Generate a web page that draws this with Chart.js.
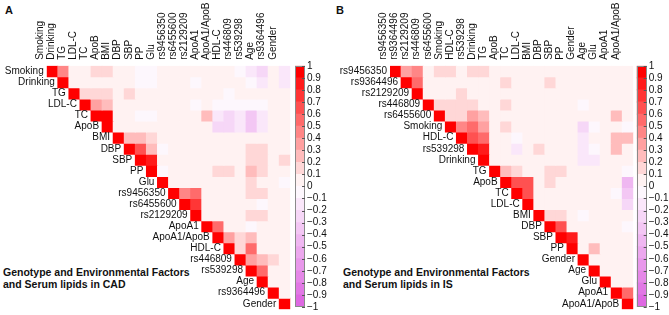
<!DOCTYPE html>
<html>
<head>
<meta charset="utf-8">
<script src="https://cdn.jsdelivr.net/npm/chart.js"></script>
<style>
  body { margin: 0; background: #fff; width: 669px; height: 315px; overflow: hidden; position: relative;
         font-family: "Liberation Sans", Arial, sans-serif; color: #111; }
  canvas { position: absolute; top: 0; }
  .tag { position: absolute; font-weight: bold; font-size: 11px; }
  .cap { position: absolute; font-weight: bold; font-size: 10.5px; line-height: 12.3px; white-space: nowrap; }
</style>
</head>
<body>
<div class="tag" style="left:5px;top:4px">A</div>
<div class="tag" style="left:336px;top:4px">B</div>
<div class="cap" style="left:3px;top:266px">Genotype and Environmental Factors<br>and Serum lipids in CAD</div>
<div class="cap" style="left:343px;top:266px">Genotype and Environmental Factors<br>and Serum lipids in IS</div>
<canvas id="heatA" width="335" height="315" style="left:0"></canvas>
<canvas id="barA" width="45" height="315" style="left:290px"></canvas>
<canvas id="heatB" width="334" height="315" style="left:335px"></canvas>
<canvas id="barB" width="37" height="315" style="left:632px"></canvas>
<script>
// variable order of each panel (columns left->right, rows top->bottom)
var varsA = ['Smoking', 'Drinking', 'TG', 'LDL-C', 'TC', 'ApoB', 'BMI', 'DBP', 'SBP', 'PP', 'Glu',
  'rs9456350', 'rs6455600', 'rs2129209', 'ApoA1', 'ApoA1/ApoB', 'HDL-C', 'rs446809', 'rs539298',
  'Age', 'rs9364496', 'Gender'];
var varsB = ['rs9456350', 'rs9364496', 'rs2129209', 'rs446809', 'rs6455600', 'Smoking', 'HDL-C',
  'rs539298', 'Drinking', 'TG', 'ApoB', 'TC', 'LDL-C', 'BMI', 'DBP', 'SBP', 'PP', 'Gender', 'Age',
  'Glu', 'ApoA1', 'ApoA1/ApoB'];

// upper triangle, row i holds columns i..21 (diagonal first)
var corrA = [
  [1, .45, .05, .05, .15, .15, .02, .05, -.05, -.05, .02, .02, .08, .02, .05, .02, .02, -.08, -.12, -.25, .02, -.18],
  [1, .03, .03, .08, .08, .02, .02, -.03, -.08, .08, .02, .08, -.05, .02, .02, .02, .02, -.08, -.2, .02, -.15],
  [1, .2, .2, .2, .05, .15, .05, .05, .05, .02, .05, .02, .02, .02, -.1, .02, .02, .05, .02, .02],
  [1, .35, .3, .05, .05, .02, .02, .02, .05, .05, -.03, .05, -.05, -.08, -.05, -.08, -.05, .02, .05],
  [1, .95, .08, .02, -.05, -.05, .03, .05, .05, .05, .3, -.12, -.3, -.15, -.32, -.15, .02, .02],
  [1, .08, .05, .05, .02, .05, .05, .05, .05, .02, -.25, -.3, -.2, -.38, -.2, .02, .02],
  [1, .25, .25, .2, .02, .05, .05, .05, .05, .05, .05, .05, .05, .02, .05, .08],
  [1, .7, .3, -.02, .05, .05, .05, .05, .05, .05, .05, .12, .12, .05, .08],
  [1, .9, .05, .05, .05, .05, .05, .05, .05, .05, .15, .2, .02, .15],
  [1, -.02, .05, .08, .02, .05, .12, .12, .1, .25, .2, .03, .1],
  [1, .05, .05, .05, .05, .05, .05, .05, .15, .05, .05, -.02],
  [1, .5, .55, .02, .02, .02, .05, .12, .12, .05, .05],
  [1, .8, .02, .02, .02, .02, .02, -.05, .02, .05],
  [1, .02, .02, .02, .02, .12, .12, .02, .05],
  [1, .6, .02, .02, -.05, .02, .02, .05],
  [1, .35, .15, .25, .02, .02, .05],
  [1, .15, .6, .05, .02, .05],
  [1, .35, .3, .15, .05],
  [1, .6, .02, .05],
  [1, .05, .05],
  [1, .08],
  [1]
];
var corrB = [
  [1, .4, .5, .05, .15, .15, .05, .2, .2, .07, .07, .02, .05, .02, .07, .05, .02, .02, .05, .02, .1, .02],
  [1, .55, .03, .1, .1, .1, .1, .1, .07, .2, .05, .05, .05, .2, .05, .05, .05, .05, .05, .05, .02],
  [1, .02, .05, .02, .15, .08, .08, .02, .05, .05, .02, .02, .02, .02, .02, .02, .07, .02, .02, .02],
  [1, .2, .2, .2, .2, .08, .05, .2, .05, .05, .05, .05, .02, .02, -.07, .02, .05, .05, .02],
  [1, .2, .2, .4, .3, .05, .05, .02, .05, .05, .05, .05, .02, .02, .05, .02, .3, .05],
  [1, .45, .6, .4, .05, .2, .05, .05, .05, .05, .05, .02, -.25, -.08, .02, .05, -.05],
  [1, .65, .6, .02, .05, -.07, .02, .05, .05, .05, .02, -.2, .02, .02, .3, .25],
  [1, .9, .05, .05, -.12, .05, .2, .08, .05, .02, -.2, -.1, .02, .3, .07],
  [1, .02, .02, .02, .02, .05, .05, .05, .02, -.2, -.15, .02, .05, .02],
  [1, .25, .2, .05, .05, .15, .15, .05, .05, .05, .05, .05, -.1],
  [1, .65, .65, .05, .15, .05, .02, .02, .02, .05, .05, -.45],
  [1, .7, .05, .05, .05, .02, .05, .05, .02, -.1, -.35],
  [1, .05, .05, .05, .02, .05, .02, .05, .05, -.3],
  [1, .2, .2, .05, -.07, .05, .02, .05, .02],
  [1, .65, .07, .05, .05, .05, .05, -.07],
  [1, .9, .05, .02, .05, .05, .05],
  [1, .07, .3, .02, .05, .05],
  [1, .05, .02, .05, .05],
  [1, .05, .05, .05],
  [1, .05, .05],
  [1, .6],
  [1]
];

// colour bar ticks
var barTicks = [1, .9, .8, .7, .6, .5, .4, .3, .2, .1, 0, -.1, -.2, -.3, -.4, -.5, -.6, -.7, -.8, -.9, -1];

var POS = [255, 0, 0];
var NEG = [222, 104, 226];

function colorFor(v) {
  // 20 discrete steps, like the legend
  var b = Math.min(10, Math.max(1, Math.ceil(Math.abs(v) * 10 - 1e-9)));
  var t = (2 * b - 1) / 19;
  var c = v >= 0 ? POS : NEG;
  var r = Math.round(255 + (c[0] - 255) * t);
  var g = Math.round(255 + (c[1] - 255) * t);
  var bl = Math.round(255 + (c[2] - 255) * t);
  return 'rgb(' + r + ',' + g + ',' + bl + ')';
}

var FONT = { family: '"Liberation Sans", Arial, sans-serif', size: 10 };

var diagLabels = {
  id: 'diagLabels',
  afterDatasetsDraw(chart, args, opts) {
    var ctx = chart.ctx, x = chart.scales.x, y = chart.scales.y;
    var w = x.getPixelForValue(1) - x.getPixelForValue(0);
    ctx.save();
    ctx.font = '10px "Liberation Sans", Arial, sans-serif';
    ctx.fillStyle = '#111';
    ctx.textAlign = 'right';
    ctx.textBaseline = 'middle';
    opts.names.forEach(function (n, i) {
      ctx.fillText(n, x.getPixelForValue(i) - w / 2 - 3, y.getPixelForValue(i + 0.5));
    });
    ctx.restore();
  }
};

function heatmap(id, names, corr, pad) {
  var n = names.length;
  var datasets = corr.map(function (row, i) {
    return {
      data: names.map(function (_, j) { return j >= i ? [i, i + 1] : null; }),
      backgroundColor: names.map(function (_, j) { return j >= i ? colorFor(row[j - i]) : 'rgba(0,0,0,0)'; }),
      borderWidth: 0,
      inflateAmount: 0.4,
      grouped: false,
      barPercentage: 1,
      categoryPercentage: 1
    };
  });
  return new Chart(document.getElementById(id), {
    type: 'bar',
    data: { labels: names, datasets: datasets },
    options: {
      responsive: false,
      animation: false,
      devicePixelRatio: 1,
      layout: { padding: pad },
      plugins: { legend: { display: false }, tooltip: { enabled: false }, diagLabels: { names: names } },
      scales: {
        x: {
          position: 'top',
          grid: { display: false, drawTicks: false },
          border: { display: false },
          ticks: { autoSkip: false, minRotation: 90, maxRotation: 90, padding: 6, color: '#111', font: FONT },
          afterFit: function (s) { s.height = 65.8; }
        },
        y: { display: false, min: 0, max: n, reverse: true }
      }
    },
    plugins: [diagLabels]
  });
}

var barFrame = {
  id: 'barFrame',
  afterDatasetsDraw(chart) {
    var ctx = chart.ctx, a = chart.chartArea, y = chart.scales.y;
    ctx.save();
    ctx.strokeStyle = '#8a8a8a';
    ctx.lineWidth = 1;
    ctx.strokeRect(Math.round(a.left) + 0.5, Math.round(a.top) + 0.5,
      Math.round(a.right - a.left) - 1, Math.round(a.bottom - a.top) - 1);
    ctx.strokeStyle = '#555';
    barTicks.forEach(function (v) {
      var py = Math.round(y.getPixelForValue(v)) + 0.5;
      ctx.beginPath();
      ctx.moveTo(a.right - 3, py);
      ctx.lineTo(a.right, py);
      ctx.stroke();
    });
    ctx.restore();
  }
};

function colorBar(id, pad, axisW) {
  var datasets = [];
  for (var k = 0; k < 20; k++) {
    var lo = -1 + k * 0.1;
    datasets.push({
      data: [[lo, lo + 0.1]],
      backgroundColor: colorFor(lo + 0.05),
      borderWidth: 0,
      inflateAmount: 0.4,
      grouped: false,
      barPercentage: 1,
      categoryPercentage: 1
    });
  }
  return new Chart(document.getElementById(id), {
    type: 'bar',
    data: { labels: [''], datasets: datasets },
    options: {
      responsive: false,
      animation: false,
      devicePixelRatio: 1,
      layout: { padding: pad },
      plugins: { legend: { display: false }, tooltip: { enabled: false } },
      scales: {
        x: { display: false },
        y: {
          position: 'right',
          min: -1, max: 1,
          grid: { display: false, drawTicks: false },
          border: { display: false },
          afterBuildTicks: function (s) { s.ticks = barTicks.map(function (v) { return { value: v }; }); },
          afterFit: function (s) { s.width = axisW; },
          ticks: {
            autoSkip: false,
            padding: 2,
            color: '#111',
            font: FONT,
            callback: function (v) {
              var r = Math.round(v * 10) / 10;
              if (r === 0) return '0';
              return r < 0 ? '\u2212' + Math.abs(r) : String(r);
            }
          }
        }
      }
    },
    plugins: [barFrame]
  });
}

heatmap('heatA', varsA, corrA, { left: 46.7, right: 44.7, top: 0, bottom: 5.7 });
heatmap('heatB', varsB, corrB, { left: 55, right: 35.7, top: 0, bottom: 5.7 });
colorBar('barA', { left: 5, right: 0, top: 65.8, bottom: 5.7 }, 30);
colorBar('barB', { left: 4.7, right: 0, top: 65.8, bottom: 5.7 }, 22.3);
</script>
</body>
</html>
